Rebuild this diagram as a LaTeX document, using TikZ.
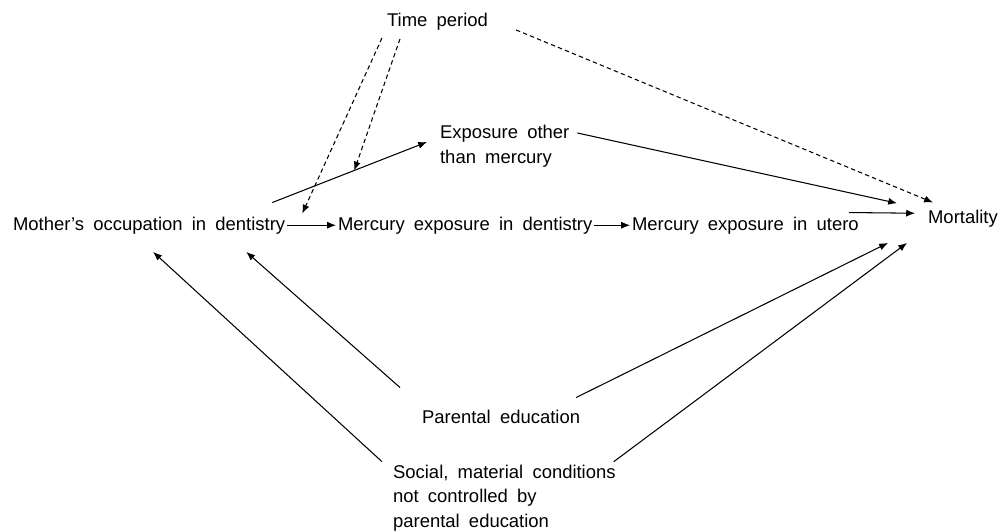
\documentclass[tikz,border=0pt]{standalone}
\usepackage{fontspec}
\setmainfont{Liberation Sans}
\usepackage{tikz}
\usetikzlibrary{arrows,arrows.meta,positioning,calc}
\newcommand{\lblfont}{\fontsize{10.5}{14}\selectfont\spaceskip=0.5em\relax}

\begin{document}
\begin{tikzpicture}[x=0.02cm, y=-0.02cm,
		lbl/.style={inner sep=1pt, font=\lblfont},
		arr/.style={->, >={Latex[length=5pt,width=4pt]}, semithick},
		darr/.style={arr, dash pattern=on 2.5pt off 1.8pt}]
		\useasboundingbox (0,0) rectangle (999,530);

		% variables
		\node[lbl, anchor=base west] (time) at (385,27) {Time period};
		\node[lbl, anchor=west, align=left] (expo) at (438,146) {Exposure other\\than mercury};
		\node[lbl, anchor=base west] (mother) at (11,230) {Mother’s occupation in dentistry};
		\node[lbl, anchor=base west] (merc) at (336,230) {Mercury exposure in dentistry};
		\node[lbl, anchor=base west] (utero) at (630,230) {Mercury exposure in utero};
		\node[lbl, anchor=base west] (mort) at (926,223) {Mortality};
		\node[lbl, anchor=base west] (parent) at (420,423) {Parental education};
		\node[lbl, anchor=west, align=left] (social) at (391,498) {Social, material conditions\\not controlled by\\parental education};

		% main path
		\draw[arr] (mother.east) -- (merc.west);
		\draw[arr] (merc.east) -- (utero.west);
		\draw[arr] ([shift={(-12,-2)}]utero.north east) -- ([shift={(-11,-5)}]mort.west);

		% other exposure
		\draw[arr] ([shift={(-15,-12)}]mother.north east) -- ([shift={(-11,-4)}]expo.west) coordinate[pos=0.53] (modpt);
		\draw[arr] ([shift={(6,10)}]expo.north east) -- ([shift={(-29,-15)}]mort.west);

		% time period
		\draw[darr] ([shift={(-3,5)}]time.south west) -- ([shift={(15,-1)}]mother.north east);
		\draw[darr] ([shift={(15,6)}]time.south west) -- (modpt);
		\draw[darr] ([shift={(26,-3)}]time.south east) -- ([shift={(7,-5)}]mort.north west);

		% confounders
		\draw[arr] ([shift={(-20,-20)}]parent.north west) -- ([shift={(-41,16)}]mother.south east);
		\draw[arr] ([shift={(-9,-1)}]social.north west) -- ([shift={(4,16)}]mother.south);
		\draw[arr] ([shift={(-6,-10)}]parent.north east) -- ([shift={(-38,14)}]mort.south west);
		\draw[arr] ([shift={(-4,-1)}]social.north east) -- ([shift={(-19,14)}]mort.south west);
	\end{tikzpicture}
\end{document}
